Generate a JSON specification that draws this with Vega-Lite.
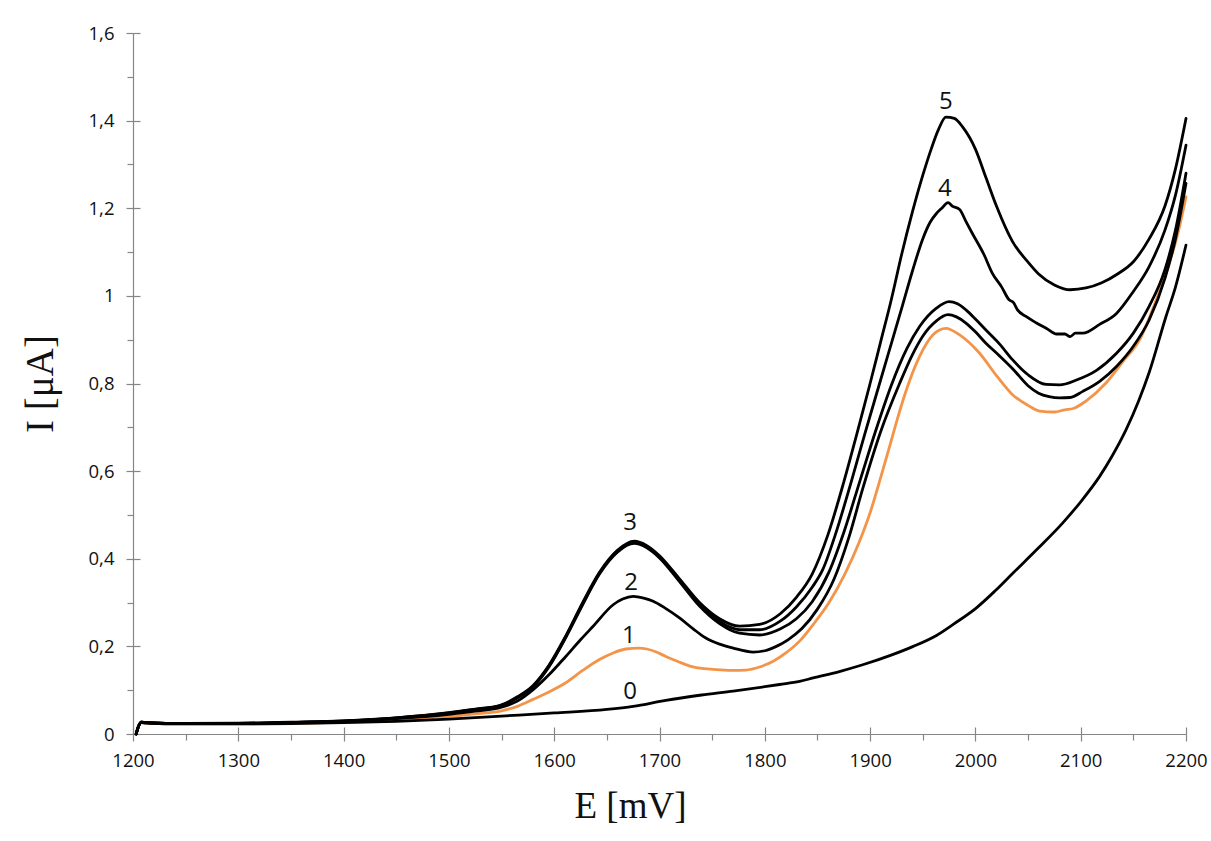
{
  "$schema": "https://vega.github.io/schema/vega-lite/v6.json",
  "autosize": {"type": "none"},
  "width": 1053,
  "height": 701,
  "padding": {"left": 133, "top": 33, "right": 25, "bottom": 107},
  "background": "white",
  "config": {"view": {"stroke": null}},
  "datasets": {
    "curves": [
      {"s":"1","E":1203,"I":0},{"s":"1","E":1205,"I":0.016},{"s":"1","E":1208,"I":0.026},{"s":"1","E":1212,"I":0.025},{"s":"1","E":1250,"I":0.023},{"s":"1","E":1300,"I":0.023},{"s":"1","E":1350,"I":0.024},{"s":"1","E":1400,"I":0.027},{"s":"1","E":1450,"I":0.032},{"s":"1","E":1500,"I":0.04},{"s":"1","E":1525,"I":0.046},{"s":"1","E":1550,"I":0.053},{"s":"1","E":1565,"I":0.063},{"s":"1","E":1580,"I":0.079},{"s":"1","E":1595,"I":0.096},{"s":"1","E":1611,"I":0.117},{"s":"1","E":1627,"I":0.145},{"s":"1","E":1643,"I":0.17},{"s":"1","E":1656,"I":0.185},{"s":"1","E":1668,"I":0.194},{"s":"1","E":1680,"I":0.196},{"s":"1","E":1688,"I":0.194},{"s":"1","E":1697,"I":0.187},{"s":"1","E":1706,"I":0.177},{"s":"1","E":1718,"I":0.165},{"s":"1","E":1729,"I":0.155},{"s":"1","E":1742,"I":0.149},{"s":"1","E":1754,"I":0.147},{"s":"1","E":1770,"I":0.145},{"s":"1","E":1782,"I":0.146},{"s":"1","E":1795,"I":0.153},{"s":"1","E":1808,"I":0.166},{"s":"1","E":1820,"I":0.185},{"s":"1","E":1833,"I":0.212},{"s":"1","E":1846,"I":0.25},{"s":"1","E":1861,"I":0.3},{"s":"1","E":1876,"I":0.365},{"s":"1","E":1890,"I":0.44},{"s":"1","E":1900,"I":0.505},{"s":"1","E":1910,"I":0.585},{"s":"1","E":1918,"I":0.652},{"s":"1","E":1926,"I":0.72},{"s":"1","E":1933,"I":0.775},{"s":"1","E":1947,"I":0.862},{"s":"1","E":1960,"I":0.912},{"s":"1","E":1972,"I":0.926},{"s":"1","E":1985,"I":0.911},{"s":"1","E":2004,"I":0.869},{"s":"1","E":2020,"I":0.818},{"s":"1","E":2035,"I":0.775},{"s":"1","E":2050,"I":0.75},{"s":"1","E":2061,"I":0.737},{"s":"1","E":2075,"I":0.735},{"s":"1","E":2085,"I":0.74},{"s":"1","E":2093,"I":0.743},{"s":"1","E":2105,"I":0.76},{"s":"1","E":2124,"I":0.801},{"s":"1","E":2140,"I":0.85},{"s":"1","E":2156,"I":0.9},{"s":"1","E":2170,"I":0.98},{"s":"1","E":2181,"I":1.052},{"s":"1","E":2192,"I":1.14},{"s":"1","E":2200,"I":1.226},

      {"s":"0","E":1203,"I":0},{"s":"0","E":1205,"I":0.016},{"s":"0","E":1208,"I":0.026},{"s":"0","E":1212,"I":0.025},{"s":"0","E":1250,"I":0.023},{"s":"0","E":1300,"I":0.023},{"s":"0","E":1350,"I":0.024},{"s":"0","E":1400,"I":0.026},{"s":"0","E":1450,"I":0.029},{"s":"0","E":1500,"I":0.034},{"s":"0","E":1550,"I":0.041},{"s":"0","E":1600,"I":0.048},{"s":"0","E":1650,"I":0.056},{"s":"0","E":1675,"I":0.063},{"s":"0","E":1706,"I":0.077},{"s":"0","E":1740,"I":0.089},{"s":"0","E":1770,"I":0.098},{"s":"0","E":1800,"I":0.108},{"s":"0","E":1814,"I":0.113},{"s":"0","E":1833,"I":0.12},{"s":"0","E":1846,"I":0.128},{"s":"0","E":1870,"I":0.142},{"s":"0","E":1893,"I":0.158},{"s":"0","E":1920,"I":0.18},{"s":"0","E":1941,"I":0.2},{"s":"0","E":1963,"I":0.225},{"s":"0","E":1980,"I":0.252},{"s":"0","E":2001,"I":0.288},{"s":"0","E":2018,"I":0.325},{"s":"0","E":2036,"I":0.368},{"s":"0","E":2060,"I":0.425},{"s":"0","E":2083,"I":0.482},{"s":"0","E":2100,"I":0.53},{"s":"0","E":2118,"I":0.588},{"s":"0","E":2130,"I":0.635},{"s":"0","E":2143,"I":0.694},{"s":"0","E":2155,"I":0.76},{"s":"0","E":2165,"I":0.825},{"s":"0","E":2181,"I":0.953},{"s":"0","E":2190,"I":1.02},{"s":"0","E":2200,"I":1.116},

      {"s":"2","E":1203,"I":0},{"s":"2","E":1205,"I":0.016},{"s":"2","E":1208,"I":0.027},{"s":"2","E":1212,"I":0.026},{"s":"2","E":1250,"I":0.024},{"s":"2","E":1300,"I":0.024},{"s":"2","E":1350,"I":0.026},{"s":"2","E":1400,"I":0.029},{"s":"2","E":1450,"I":0.035},{"s":"2","E":1500,"I":0.045},{"s":"2","E":1525,"I":0.052},{"s":"2","E":1550,"I":0.061},{"s":"2","E":1565,"I":0.075},{"s":"2","E":1580,"I":0.101},{"s":"2","E":1595,"I":0.135},{"s":"2","E":1611,"I":0.177},{"s":"2","E":1625,"I":0.215},{"s":"2","E":1637,"I":0.246},{"s":"2","E":1656,"I":0.295},{"s":"2","E":1665,"I":0.308},{"s":"2","E":1675,"I":0.314},{"s":"2","E":1685,"I":0.31},{"s":"2","E":1694,"I":0.303},{"s":"2","E":1705,"I":0.288},{"s":"2","E":1719,"I":0.265},{"s":"2","E":1732,"I":0.24},{"s":"2","E":1744,"I":0.219},{"s":"2","E":1757,"I":0.205},{"s":"2","E":1770,"I":0.196},{"s":"2","E":1789,"I":0.187},{"s":"2","E":1800,"I":0.19},{"s":"2","E":1811,"I":0.2},{"s":"2","E":1822,"I":0.215},{"s":"2","E":1835,"I":0.24},{"s":"2","E":1850,"I":0.285},{"s":"2","E":1866,"I":0.355},{"s":"2","E":1880,"I":0.45},{"s":"2","E":1893,"I":0.56},{"s":"2","E":1910,"I":0.69},{"s":"2","E":1928,"I":0.8},{"s":"2","E":1940,"I":0.865},{"s":"2","E":1950,"I":0.908},{"s":"2","E":1963,"I":0.943},{"s":"2","E":1974,"I":0.957},{"s":"2","E":1982,"I":0.952},{"s":"2","E":1991,"I":0.938},{"s":"2","E":2000,"I":0.918},{"s":"2","E":2010,"I":0.892},{"s":"2","E":2022,"I":0.865},{"s":"2","E":2036,"I":0.832},{"s":"2","E":2050,"I":0.795},{"s":"2","E":2060,"I":0.778},{"s":"2","E":2070,"I":0.77},{"s":"2","E":2080,"I":0.767},{"s":"2","E":2090,"I":0.768},{"s":"2","E":2102,"I":0.782},{"s":"2","E":2118,"I":0.805},{"s":"2","E":2134,"I":0.839},{"s":"2","E":2150,"I":0.885},{"s":"2","E":2165,"I":0.945},{"s":"2","E":2180,"I":1.04},{"s":"2","E":2190,"I":1.13},{"s":"2","E":2200,"I":1.257},

      {"s":"3","E":1203,"I":0},{"s":"3","E":1205,"I":0.016},{"s":"3","E":1208,"I":0.027},{"s":"3","E":1212,"I":0.026},{"s":"3","E":1250,"I":0.024},{"s":"3","E":1300,"I":0.024},{"s":"3","E":1350,"I":0.026},{"s":"3","E":1400,"I":0.029},{"s":"3","E":1450,"I":0.036},{"s":"3","E":1500,"I":0.047},{"s":"3","E":1525,"I":0.055},{"s":"3","E":1548,"I":0.063},{"s":"3","E":1565,"I":0.082},{"s":"3","E":1580,"I":0.108},{"s":"3","E":1595,"I":0.153},{"s":"3","E":1611,"I":0.22},{"s":"3","E":1627,"I":0.295},{"s":"3","E":1643,"I":0.365},{"s":"3","E":1660,"I":0.415},{"s":"3","E":1676,"I":0.435},{"s":"3","E":1688,"I":0.425},{"s":"3","E":1700,"I":0.402},{"s":"3","E":1719,"I":0.348},{"s":"3","E":1738,"I":0.292},{"s":"3","E":1757,"I":0.252},{"s":"3","E":1776,"I":0.23},{"s":"3","E":1795,"I":0.226},{"s":"3","E":1815,"I":0.24},{"s":"3","E":1830,"I":0.263},{"s":"3","E":1845,"I":0.302},{"s":"3","E":1861,"I":0.37},{"s":"3","E":1875,"I":0.46},{"s":"3","E":1890,"I":0.575},{"s":"3","E":1905,"I":0.69},{"s":"3","E":1920,"I":0.795},{"s":"3","E":1935,"I":0.88},{"s":"3","E":1947,"I":0.93},{"s":"3","E":1963,"I":0.972},{"s":"3","E":1975,"I":0.987},{"s":"3","E":1983,"I":0.982},{"s":"3","E":1991,"I":0.968},{"s":"3","E":2000,"I":0.947},{"s":"3","E":2010,"I":0.922},{"s":"3","E":2023,"I":0.89},{"s":"3","E":2035,"I":0.855},{"s":"3","E":2050,"I":0.82},{"s":"3","E":2067,"I":0.798},{"s":"3","E":2080,"I":0.797},{"s":"3","E":2096,"I":0.808},{"s":"3","E":2115,"I":0.83},{"s":"3","E":2134,"I":0.869},{"s":"3","E":2150,"I":0.915},{"s":"3","E":2165,"I":0.976},{"s":"3","E":2180,"I":1.06},{"s":"3","E":2190,"I":1.15},{"s":"3","E":2200,"I":1.28},

      {"s":"4","E":1203,"I":0},{"s":"4","E":1205,"I":0.016},{"s":"4","E":1208,"I":0.027},{"s":"4","E":1212,"I":0.026},{"s":"4","E":1250,"I":0.024},{"s":"4","E":1300,"I":0.024},{"s":"4","E":1350,"I":0.026},{"s":"4","E":1400,"I":0.03},{"s":"4","E":1450,"I":0.037},{"s":"4","E":1500,"I":0.048},{"s":"4","E":1525,"I":0.056},{"s":"4","E":1548,"I":0.064},{"s":"4","E":1565,"I":0.083},{"s":"4","E":1580,"I":0.109},{"s":"4","E":1595,"I":0.155},{"s":"4","E":1611,"I":0.222},{"s":"4","E":1627,"I":0.297},{"s":"4","E":1643,"I":0.367},{"s":"4","E":1660,"I":0.417},{"s":"4","E":1676,"I":0.437},{"s":"4","E":1688,"I":0.427},{"s":"4","E":1700,"I":0.404},{"s":"4","E":1719,"I":0.351},{"s":"4","E":1738,"I":0.296},{"s":"4","E":1757,"I":0.257},{"s":"4","E":1776,"I":0.238},{"s":"4","E":1795,"I":0.238},{"s":"4","E":1815,"I":0.258},{"s":"4","E":1830,"I":0.29},{"s":"4","E":1845,"I":0.335},{"s":"4","E":1855,"I":0.375},{"s":"4","E":1867,"I":0.455},{"s":"4","E":1882,"I":0.575},{"s":"4","E":1895,"I":0.685},{"s":"4","E":1909,"I":0.8},{"s":"4","E":1920,"I":0.89},{"s":"4","E":1931,"I":0.98},{"s":"4","E":1940,"I":1.055},{"s":"4","E":1950,"I":1.13},{"s":"4","E":1957,"I":1.168},{"s":"4","E":1963,"I":1.188},{"s":"4","E":1968,"I":1.2},{"s":"4","E":1974,"I":1.213},{"s":"4","E":1978,"I":1.205},{"s":"4","E":1985,"I":1.197},{"s":"4","E":1991,"I":1.17},{"s":"4","E":1997,"I":1.143},{"s":"4","E":2008,"I":1.095},{"s":"4","E":2016,"I":1.052},{"s":"4","E":2025,"I":1.02},{"s":"4","E":2032,"I":0.991},{"s":"4","E":2036,"I":0.985},{"s":"4","E":2040,"I":0.968},{"s":"4","E":2048,"I":0.953},{"s":"4","E":2058,"I":0.938},{"s":"4","E":2068,"I":0.925},{"s":"4","E":2077,"I":0.913},{"s":"4","E":2085,"I":0.913},{"s":"4","E":2090,"I":0.907},{"s":"4","E":2095,"I":0.915},{"s":"4","E":2102,"I":0.915},{"s":"4","E":2118,"I":0.935},{"s":"4","E":2134,"I":0.96},{"s":"4","E":2150,"I":1.01},{"s":"4","E":2165,"I":1.067},{"s":"4","E":2180,"I":1.15},{"s":"4","E":2190,"I":1.23},{"s":"4","E":2200,"I":1.344},

      {"s":"5","E":1203,"I":0},{"s":"5","E":1205,"I":0.016},{"s":"5","E":1208,"I":0.027},{"s":"5","E":1212,"I":0.026},{"s":"5","E":1250,"I":0.024},{"s":"5","E":1300,"I":0.025},{"s":"5","E":1350,"I":0.027},{"s":"5","E":1400,"I":0.03},{"s":"5","E":1450,"I":0.037},{"s":"5","E":1500,"I":0.049},{"s":"5","E":1525,"I":0.057},{"s":"5","E":1548,"I":0.065},{"s":"5","E":1565,"I":0.085},{"s":"5","E":1580,"I":0.111},{"s":"5","E":1595,"I":0.157},{"s":"5","E":1611,"I":0.224},{"s":"5","E":1627,"I":0.3},{"s":"5","E":1643,"I":0.369},{"s":"5","E":1660,"I":0.419},{"s":"5","E":1676,"I":0.44},{"s":"5","E":1688,"I":0.43},{"s":"5","E":1700,"I":0.407},{"s":"5","E":1719,"I":0.354},{"s":"5","E":1738,"I":0.3},{"s":"5","E":1757,"I":0.263},{"s":"5","E":1776,"I":0.246},{"s":"5","E":1795,"I":0.25},{"s":"5","E":1815,"I":0.275},{"s":"5","E":1830,"I":0.312},{"s":"5","E":1845,"I":0.365},{"s":"5","E":1860,"I":0.455},{"s":"5","E":1875,"I":0.575},{"s":"5","E":1888,"I":0.69},{"s":"5","E":1900,"I":0.8},{"s":"5","E":1910,"I":0.895},{"s":"5","E":1920,"I":0.99},{"s":"5","E":1930,"I":1.095},{"s":"5","E":1940,"I":1.19},{"s":"5","E":1950,"I":1.275},{"s":"5","E":1958,"I":1.335},{"s":"5","E":1965,"I":1.38},{"s":"5","E":1972,"I":1.408},{"s":"5","E":1980,"I":1.405},{"s":"5","E":1988,"I":1.385},{"s":"5","E":2000,"I":1.335},{"s":"5","E":2010,"I":1.27},{"s":"5","E":2020,"I":1.205},{"s":"5","E":2035,"I":1.125},{"s":"5","E":2050,"I":1.077},{"s":"5","E":2060,"I":1.05},{"s":"5","E":2075,"I":1.025},{"s":"5","E":2090,"I":1.014},{"s":"5","E":2105,"I":1.018},{"s":"5","E":2120,"I":1.03},{"s":"5","E":2135,"I":1.05},{"s":"5","E":2150,"I":1.078},{"s":"5","E":2165,"I":1.13},{"s":"5","E":2180,"I":1.205},{"s":"5","E":2190,"I":1.29},{"s":"5","E":2200,"I":1.405}
    ],
    "labels": [
      {"t":"0","E":1672,"I":0.097},
      {"t":"1","E":1671,"I":0.223},
      {"t":"2","E":1673,"I":0.345},
      {"t":"3","E":1672,"I":0.482},
      {"t":"4","E":1971,"I":1.243},
      {"t":"5","E":1972,"I":1.442}
    ]
  },
  "layer": [
    {
      "data": {"name": "curves"},
      "mark": {"type": "line", "strokeWidth": 2.8, "strokeJoin": "round", "strokeCap": "round", "interpolate": "monotone"},
      "encoding": {
        "x": {
          "field": "E", "type": "quantitative",
          "scale": {"domain": [1200, 2200], "nice": false, "zero": false},
          "axis": {
            "orient": "bottom",
            "values": [1200, 1300, 1400, 1500, 1600, 1700, 1800, 1900, 2000, 2100, 2200],
            "format": "d", "labelFlush": false, "labelOverlap": false,
            "title": "E [mV]", "titleFont": "Liberation Serif", "titleFontSize": 37, "titleFontWeight": "normal", "titleColor": "#111",
            "titleX": 497, "titlePadding": 19,
            "labelFont": "Open Sans", "labelFontSize": 18.5, "labelColor": "#111", "labelPadding": 10,
            "domainColor": "#868686", "domainWidth": 1.2, "tickColor": "#868686", "tickWidth": 1.2, "tickSize": 7,
            "grid": false
          }
        },
        "y": {
          "field": "I", "type": "quantitative",
          "scale": {"domain": [0, 1.6], "nice": false},
          "axis": {
            "orient": "left",
            "values": [0, 0.2, 0.4, 0.6, 0.8, 1, 1.2, 1.4, 1.6],
            "labelExpr": "replace(format(datum.value, '.1~f'), '.', ',')",
            "labelFlush": false, "labelOverlap": false,
            "title": "I [μA]", "titleFont": "Liberation Serif", "titleFontSize": 39, "titleFontWeight": "normal", "titleColor": "#111",
            "titlePadding": 28,
            "labelFont": "Open Sans", "labelFontSize": 18.5, "labelColor": "#111", "labelPadding": 12,
            "domainColor": "#868686", "domainWidth": 1.2, "tickColor": "#868686", "tickWidth": 1.2, "tickSize": 7,
            "grid": false
          }
        },
        "color": {
          "field": "s", "type": "nominal",
          "scale": {"domain": ["0", "1", "2", "3", "4", "5"], "range": ["#000000", "#F39449", "#000000", "#000000", "#000000", "#000000"]},
          "legend": null
        },
        "detail": {"field": "s"}
      }
    },
    {
      "data": {"name": "labels"},
      "transform": [{"filter": "datum.t <= '3'"}],
      "mark": {"type": "text", "font": "Open Sans", "fontSize": 24, "color": "#111", "align": "center", "baseline": "middle"},
      "encoding": {
        "x": {"field": "E", "type": "quantitative",
          "axis": {"orient": "bottom", "values": [1250, 1350, 1450, 1550, 1650, 1750, 1850, 1950, 2050, 2150], "labels": false, "domain": false, "title": null, "grid": false, "tickColor": "#868686", "tickWidth": 1.2, "tickSize": 6}},
        "y": {"field": "I", "type": "quantitative",
          "axis": {"orient": "left", "values": [0.1, 0.3, 0.5, 0.7, 0.9, 1.1, 1.3, 1.5], "labels": false, "domain": false, "title": null, "grid": false, "tickColor": "#868686", "tickWidth": 1.2, "tickSize": 6}},
        "text": {"field": "t"}
      }
    },
    {
      "data": {"name": "labels"},
      "transform": [{"filter": "datum.t > '3'"}],
      "mark": {"type": "text", "font": "Open Sans", "fontSize": 24, "color": "#111", "align": "center", "baseline": "middle"},
      "encoding": {
        "x": {"field": "E", "type": "quantitative",
          "axis": {"orient": "bottom", "values": [1200, 1300, 1400, 1500, 1600, 1700, 1800, 1900, 2000, 2100, 2200], "labels": false, "domain": false, "title": null, "grid": false, "tickColor": "#868686", "tickWidth": 1.2, "tickSize": -7}},
        "y": {"field": "I", "type": "quantitative",
          "axis": {"orient": "left", "values": [0, 0.2, 0.4, 0.6, 0.8, 1, 1.2, 1.4, 1.6], "labels": false, "domain": false, "title": null, "grid": false, "tickColor": "#868686", "tickWidth": 1.2, "tickSize": -7}},
        "text": {"field": "t"}
      }
    }
  ],
  "resolve": {"axis": {"x": "independent", "y": "independent"}}
}
